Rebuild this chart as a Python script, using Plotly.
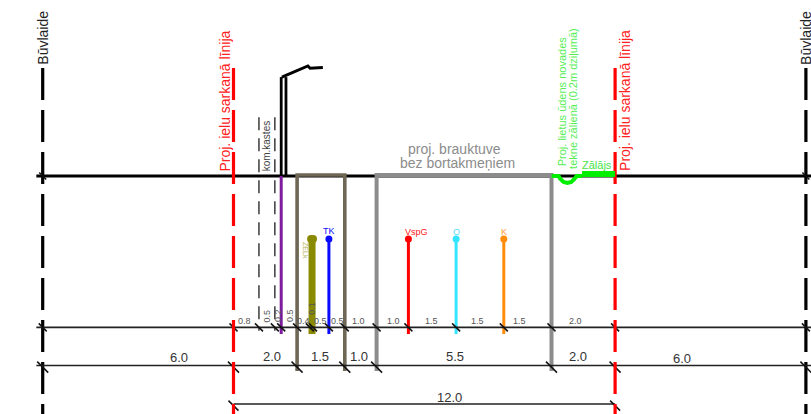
import plotly.graph_objects as go

FONT = "Liberation Sans, Arial, sans-serif"

# all positions in metres, x from the red line, y from the ground line
boundary_x_black = [-6.0, 18.0]
boundary_x_red = [0.0, 12.0]
boundary_top = 3.396
plot_bottom = -7.484

ground_x = [-6.2, 18.2]
level_y = [-4.76, -5.96, -7.17]
level1_x = [-6, 0, 0.8, 1.3, 1.5, 2.0, 2.4, 2.5, 3.0, 3.5, 4.5, 5.5, 7.0, 8.5, 10.0, 12.0, 18.0]
level2_x = [-6, 0, 2.0, 3.5, 4.5, 10.0, 12.0, 18.0]
level3_x = [0, 12.0]

kom_x = [0.8, 1.3]
kom_top, kom_bottom = 1.85, -4.87
purple_x, purple_bottom = 1.5, -4.97
brown_x = [2.0, 2.0, 3.5, 3.5]
grey_x = [4.5, 4.5, 10.0, 10.0]
box_y = [-6.13, 0.03, 0.03, -6.13]

util_names = ["TK", "VspG", "O", "K"]
util_x = [3.0, 5.5, 7.0, 8.5]
util_colors = ["#0a0aff", "#ff0000", "#33e5ff", "#ff8c0a"]
util_top = -1.98
util_bottom = -4.97
olive_x = 2.47

lamp_left_x = [1.5, 1.5]
lamp_right_x = [1.65, 1.65]
lamp_pole_y = [0, 3.11]
arm_x = [1.52, 2.34, 2.41, 2.81]
arm_y = [3.11, 3.46, 3.39, 3.41]

swale_x = [10.0, 10.22, 10.28, 10.38, 10.5, 10.62, 10.72, 10.79, 10.96]
swale_y = [0.0, 0.0, -0.09, -0.19, -0.22, -0.19, -0.09, 0.0, 0.0]
grass_x = [10.96, 12.0]
grass_y = [0.06, 0.06]

L1_TEXT = ["0.8", "0.5", "0.2", "0.5", "0.4", "0.1", "0.5", "0.5", "1.0", "1.0", "1.5", "1.5", "1.5", "2.0"]
L1_TX = [0.36, 1.04, 1.40, 1.78, 2.19, 2.46, 2.74, 3.28, 3.92, 5.02, 6.24, 7.68, 8.98, 10.76]
L1_TY = [-4.56, -4.40, -4.40, -4.40, -4.56, -4.15, -4.56, -4.56, -4.56, -4.56, -4.56, -4.56, -4.56, -4.56]
L1_ROT = [0, -90, -90, -90, 0, -90, 0, 0, 0, 0, 0, 0, 0, 0]
L2_TEXT = ["6.0", "2.0", "1.5", "1.0", "5.5", "2.0", "6.0"]
L2_TX = [-1.70, 1.20, 2.72, 3.94, 6.96, 10.83, 14.10]
L2_TY = [-5.71, -5.69, -5.69, -5.69, -5.69, -5.69, -5.74]

PX = 31.8
fig = go.Figure()


def line(x, y, color, width, dash=None):
    fig.add_trace(go.Scatter(
        x=x, y=y, mode="lines", hoverinfo="skip",
        line=dict(color=color, width=width, dash=dash),
    ))


def ticks(x, y, size, width=1.5):
    fig.add_trace(go.Scatter(
        x=x, y=[y] * len(x), mode="markers", hoverinfo="skip",
        marker=dict(symbol="line-nw", size=size, line=dict(color="#111111", width=width)),
    ))


def label(x, y, text, size, color, angle=0):
    fig.add_annotation(
        x=x, y=y, text=text, showarrow=False, textangle=angle,
        font=dict(family=FONT, size=size, color=color),
        xanchor="center", yanchor="middle", borderpad=0,
    )


# ground line
line(ground_x, [0, 0], "#000000", 3)

# building / red lines
for bx in boundary_x_black:
    line([bx, bx], [boundary_top, plot_bottom], "#000000", 3.2, "32px,10px")

# kom. kastes
for kx in kom_x:
    line([kx, kx], [kom_top, kom_bottom], "#3c3c3c", 1.5, "13px,8px")

# lamp
line(lamp_left_x, lamp_pole_y, "#000000", 2.8)
line(lamp_right_x, lamp_pole_y, "#000000", 2.8)
line(arm_x, arm_y, "#000000", 3)

# road boxes
line(brown_x, box_y, "#6f6756", 3.6)
line(grey_x, box_y, "#8c8c8c", 4)
line([purple_x, purple_x], [0, purple_bottom], "#7d1a9e", 3)

# utilities
fig.add_trace(go.Scatter(
    x=[olive_x, olive_x], y=[util_top, util_bottom], mode="lines", hoverinfo="skip",
    line=dict(color="#8a8a00", width=7),
))
fig.add_trace(go.Scatter(
    x=[olive_x - 0.03, olive_x + 0.03], y=[util_top, util_top], mode="markers", hoverinfo="skip",
    marker=dict(color="#8a8a00", size=8, line=dict(width=0)),
))
for ux, uc in zip(util_x, util_colors):
    line([ux, ux], [util_top, util_bottom], uc, 3)
    fig.add_trace(go.Scatter(
        x=[ux], y=[util_top], mode="markers", hoverinfo="skip",
        marker=dict(color=uc, size=7, line=dict(width=0)),
    ))

# dimension lines
line(ground_x, [level_y[0]] * 2, "#222222", 1.6)
line(ground_x, [level_y[1]] * 2, "#222222", 1.6)
line([level3_x[0], level3_x[1]], [level_y[2]] * 2, "#222222", 1.6)
ticks([-6, 18], 0, 7, 1.5)
ticks(level1_x, level_y[0], 8)
ticks(level2_x, level_y[1] - 0.05, 11)
ticks(level3_x, level_y[2] - 0.05, 10)

# red lines over dimension lines
for bx in boundary_x_red:
    line([bx, bx], [boundary_top, plot_bottom], "#ff0000", 3.2, "32px,10px")

# swale and grass
line(swale_x, swale_y, "#00ee00", 4)
line(grass_x, grass_y, "#00ee00", 6)

# labels
label(-6.0, 4.34, "Būvlaide", 14, "#222222", -90)
label(18.0, 4.34, "Būvlaide", 14, "#222222", -90)
label(-0.27, 2.37, "Proj. ielu sarkanā līnija", 14, "#ff2020", -90)
label(12.29, 2.37, "Proj. ielu sarkanā līnija", 14, "#ff2020", -90)
label(1.04, 0.95, "kom.kastes", 10, "#444444", -90)
label(6.95, 0.85, "proj. brauktuve", 14, "#8c8c8c")
label(7.03, 0.41, "bez bortakmeņiem", 14, "#8c8c8c")
label(10.32, 2.34, "Proj. lietus ūdens novades", 11, "#55ee55", -90)
label(10.67, 2.45, "tekne zālienā (0.2m dziļumā)", 11, "#55ee55", -90)
label(11.43, 0.35, "Zālājs", 11, "#44e544")
label(3.0, -1.73, "TK", 9, "#0a0aff")
label(5.77, -1.76, "VspG", 9, "#ff2020")
label(7.0, -1.76, "O", 9, "#55ddff")
label(8.5, -1.76, "K", 9, "#ff9a30")
label(2.28, -2.33, "ZELk", 7, "#b5b560", 90)

for t, x, y, a in zip(L1_TEXT, L1_TX, L1_TY, L1_ROT):
    label(x, y, t, 9, "#555555", a)
for t, x, y in zip(L2_TEXT, L2_TX, L2_TY):
    label(x, y, t, 13, "#333333")
label(6.78, -6.98, "12.0", 13, "#333333")

fig.update_layout(
    width=811, height=414, autosize=False,
    margin=dict(l=0, r=0, t=0, b=0),
    paper_bgcolor="#ffffff", plot_bgcolor="#ffffff",
    showlegend=False,
    xaxis=dict(range=[-233.5 / PX, (811 - 233.5) / PX], visible=False, fixedrange=True),
    yaxis=dict(range=[(176 - 414) / PX, 176 / PX], visible=False, fixedrange=True),
)

fig.write_html("out.html", config={"displayModeBar": False},
               post_script="document.body.style.margin='0';document.documentElement.style.overflow='hidden';")
